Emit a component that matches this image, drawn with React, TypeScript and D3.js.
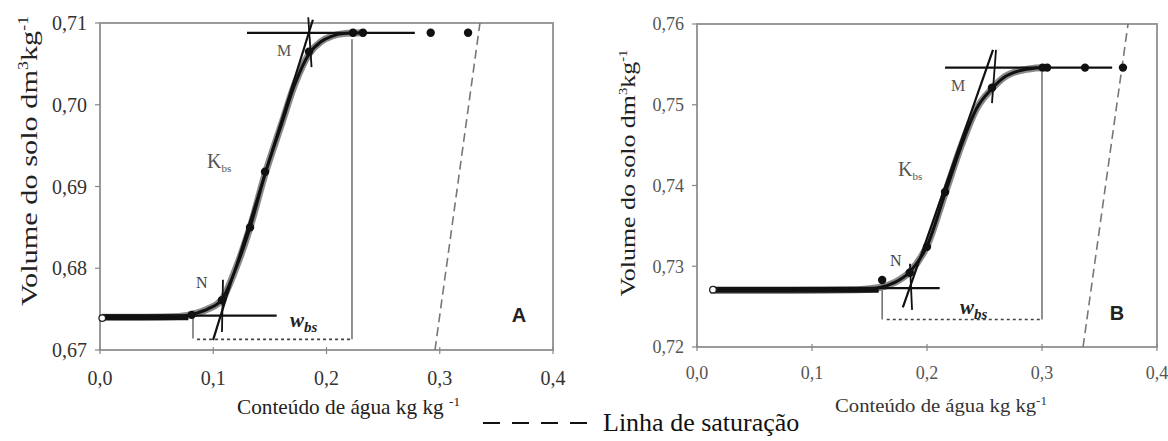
import React from "react";
import * as d3 from "d3";

// ---------- shared ticks ----------
const xTicks = [0, 0.1, 0.2, 0.3, 0.4];
const xTickLabels = ["0,0", "0,1", "0,2", "0,3", "0,4"];
const yTicksA = [0.67, 0.68, 0.69, 0.7, 0.71];
const yTickLabelsA = ["0,67", "0,68", "0,69", "0,70", "0,71"];
const yTicksB = [0.72, 0.73, 0.74, 0.75, 0.76];
const yTickLabelsB = ["0,72", "0,73", "0,74", "0,75", "0,76"];

// ---------- panel A data ----------
const obsWA = [0.002, 0.081, 0.1077, 0.1325, 0.1457, 0.1845, 0.2234, 0.2322, 0.292, 0.325];
const obsVA = [0.6739, 0.6743, 0.6761, 0.685, 0.6918, 0.7065, 0.7088, 0.7088, 0.7088, 0.7088];
// cluster of overlapping measurements on the dry plateau: [w start, w end, v]
const clusterA = [0.002, 0.078, 0.674];
const fitWA = [0.002, 0.04, 0.07, 0.085, 0.095, 0.1077, 0.12, 0.1325, 0.1457, 0.16, 0.172, 0.1845, 0.195, 0.205, 0.215, 0.2322];
const fitVA = [0.674, 0.674, 0.6741, 0.6745, 0.675, 0.6762, 0.68, 0.685, 0.6915, 0.6975, 0.7025, 0.7062, 0.7077, 0.7084, 0.7087, 0.7088];
// construction lines: [w1, v1, w2, v2]
const topLineA = [0.1298, 0.7088, 0.278, 0.7088];
const baseLineA = [0.002, 0.6742, 0.156, 0.6742];
const tangentA = [0.0998, 0.6712, 0.188, 0.7104];
const markNA = [0.1086, 0.6786, 0.1077, 0.6722];
const markMA = [0.1839, 0.7107, 0.1868, 0.7046];
const leftVertA = [0.0821, 0.6742, 0.0821, 0.6714];
const rightVertA = [0.2225, 0.708, 0.2225, 0.6713];
const dottedA = [0.0857, 0.6713, 0.2225, 0.6713];
const saturationA = [0.2958, 0.67, 0.3355, 0.71];

// ---------- panel B data ----------
const obsWB = [0.0139, 0.161, 0.185, 0.2, 0.2157, 0.2565, 0.3005, 0.3045, 0.3374, 0.3704];
const obsVB = [0.7271, 0.7283, 0.7292, 0.7324, 0.7392, 0.7521, 0.7546, 0.7546, 0.7546, 0.7546];
const clusterB = [0.0139, 0.158, 0.7271];
const fitWB = [0.0139, 0.08, 0.14, 0.16, 0.172, 0.185, 0.2, 0.2157, 0.23, 0.243, 0.2565, 0.268, 0.28, 0.292, 0.3045];
const fitVB = [0.727, 0.727, 0.7271, 0.7274, 0.728, 0.7293, 0.7325, 0.739, 0.745, 0.7495, 0.752, 0.7535, 0.7542, 0.7545, 0.7546];
const topLineB = [0.2157, 0.7546, 0.361, 0.7546];
const baseLineB = [0.0139, 0.7273, 0.211, 0.7273];
const tangentB = [0.179, 0.7249, 0.2574, 0.7568];
const markNB = [0.1852, 0.7303, 0.187, 0.7246];
const markMB = [0.26, 0.7568, 0.2565, 0.7502];
const leftVertB = [0.161, 0.7273, 0.161, 0.7234];
const rightVertB = [0.3, 0.7541, 0.3, 0.7234];
const dottedB = [0.165, 0.7234, 0.3, 0.7234];
const saturationB = [0.3357, 0.72, 0.3748, 0.76];

const SERIF = "Liberation Serif, Times New Roman, serif";
const SANS = "Liberation Sans, Arial, sans-serif";

type PanelCfg = {
  x: d3.ScaleLinear<number, number>;
  y: d3.ScaleLinear<number, number>;
  yTicks: number[];
  yTickLabels: string[];
  obsW: number[];
  obsV: number[];
  cluster: number[];
  fitW: number[];
  fitV: number[];
  topLine: number[];
  baseLine: number[];
  tangent: number[];
  markN: number[];
  markM: number[];
  leftVert: number[];
  rightVert: number[];
  dotted: number[];
  saturation: number[];
  tickFont: number;
  tickColor: string;
  xTickDy: number;
};

function Seg({ s, cfg, ...rest }: { s: number[]; cfg: PanelCfg; [k: string]: any }) {
  return (
    <line
      x1={cfg.x(s[0])}
      y1={cfg.y(s[1])}
      x2={cfg.x(s[2])}
      y2={cfg.y(s[3])}
      {...rest}
    />
  );
}

function Panel({ cfg }: { cfg: PanelCfg }) {
  const { x, y } = cfg;
  const [x0, x1] = x.range();
  const [y0, y1] = y.range();
  const fitPts: [number, number][] = cfg.fitW.map((w, i) => [w, cfg.fitV[i]]);
  const line = d3
    .line<[number, number]>()
    .x((d) => x(d[0]))
    .y((d) => y(d[1]))
    .curve(d3.curveMonotoneX);
  const fitPath = line(fitPts) || "";
  return (
    <g>
      <rect x={x0} y={y1} width={x1 - x0} height={y0 - y1} fill="none" stroke="#9a9a9a" strokeWidth={2} />
      {cfg.yTicks.map((t, i) => (
        <g key={"yt" + i}>
          <line x1={x0 - 5} x2={x0} y1={y(t)} y2={y(t)} stroke="#888" strokeWidth={1.2} />
          <text
            x={x0 - 13}
            y={y(t)}
            dy="0.35em"
            textAnchor="end"
            style={{ fontFamily: SERIF }}
            fontSize={cfg.tickFont}
            fill={cfg.tickColor}
          >
            {cfg.yTickLabels[i]}
          </text>
        </g>
      ))}
      {xTicks.map((t, i) => (
        <g key={"xt" + i}>
          <line x1={x(t)} x2={x(t)} y1={y0 - 3} y2={y0 + 4} stroke="#888" strokeWidth={1.2} />
          <text
            x={x(t)}
            y={y0 + cfg.xTickDy}
            dy="0.35em"
            textAnchor="middle"
            style={{ fontFamily: SERIF }}
            fontSize={cfg.tickFont}
            fill={cfg.tickColor}
          >
            {xTickLabels[i]}
          </text>
        </g>
      ))}
      <Seg s={cfg.saturation} cfg={cfg} stroke="#777" strokeWidth={1.6} strokeDasharray="9,5" />
      <Seg s={cfg.leftVert} cfg={cfg} stroke="#555" strokeWidth={1.3} />
      <Seg s={cfg.rightVert} cfg={cfg} stroke="#555" strokeWidth={1.3} />
      <Seg s={cfg.dotted} cfg={cfg} stroke="#444" strokeWidth={1.6} strokeDasharray="3,3" />
      <path d={fitPath} fill="none" stroke="#8a8a8a" strokeWidth={7} strokeLinecap="round" />
      <path d={fitPath} fill="none" stroke="#111" strokeWidth={3} strokeLinecap="round" />
      <line
        x1={x(cfg.cluster[0])}
        y1={y(cfg.cluster[2])}
        x2={x(cfg.cluster[1])}
        y2={y(cfg.cluster[2])}
        stroke="#111"
        strokeWidth={6}
      />
      <Seg s={cfg.topLine} cfg={cfg} stroke="#111" strokeWidth={2.2} />
      <Seg s={cfg.baseLine} cfg={cfg} stroke="#111" strokeWidth={2.2} />
      <Seg s={cfg.tangent} cfg={cfg} stroke="#111" strokeWidth={2.2} />
      <Seg s={cfg.markN} cfg={cfg} stroke="#111" strokeWidth={1.8} />
      <Seg s={cfg.markM} cfg={cfg} stroke="#111" strokeWidth={1.8} />
      {cfg.obsW.map((w, i) =>
        i === 0 ? (
          <circle key={"p" + i} cx={x(w)} cy={y(cfg.obsV[i])} r={3.3} fill="#fff" stroke="#222" strokeWidth={1.3} />
        ) : (
          <circle key={"p" + i} cx={x(w)} cy={y(cfg.obsV[i])} r={4.2} fill="#111" />
        )
      )}
    </g>
  );
}

function Label({
  x,
  y,
  main,
  sub,
  size,
  subSize,
  color,
  italic,
  bold,
}: {
  x: number;
  y: number;
  main: string;
  sub?: string;
  size: number;
  subSize?: number;
  color: string;
  italic?: boolean;
  bold?: boolean;
}) {
  return (
    <text
      x={x}
      y={y}
      style={{ fontFamily: SERIF }}
      fontSize={size}
      fill={color}
      fontStyle={italic ? "italic" : "normal"}
      fontWeight={bold ? "bold" : "normal"}
    >
      {main}
      {sub ? (
        <tspan fontSize={subSize} dy={size * 0.22}>
          {sub}
        </tspan>
      ) : null}
    </text>
  );
}

export default function App() {
  const xA = d3.scaleLinear().domain([0, 0.4]).range([100, 553]);
  const yA = d3.scaleLinear().domain([0.67, 0.71]).range([350, 23]);
  const xB = d3.scaleLinear().domain([0, 0.4]).range([697, 1157]);
  const yB = d3.scaleLinear().domain([0.72, 0.76]).range([347, 24]);

  const cfgA: PanelCfg = {
    x: xA,
    y: yA,
    yTicks: yTicksA,
    yTickLabels: yTickLabelsA,
    obsW: obsWA,
    obsV: obsVA,
    cluster: clusterA,
    fitW: fitWA,
    fitV: fitVA,
    topLine: topLineA,
    baseLine: baseLineA,
    tangent: tangentA,
    markN: markNA,
    markM: markMA,
    leftVert: leftVertA,
    rightVert: rightVertA,
    dotted: dottedA,
    saturation: saturationA,
    tickFont: 20,
    tickColor: "#333",
    xTickDy: 28,
  };
  const cfgB: PanelCfg = {
    x: xB,
    y: yB,
    yTicks: yTicksB,
    yTickLabels: yTickLabelsB,
    obsW: obsWB,
    obsV: obsVB,
    cluster: clusterB,
    fitW: fitWB,
    fitV: fitVB,
    topLine: topLineB,
    baseLine: baseLineB,
    tangent: tangentB,
    markN: markNB,
    markM: markMB,
    leftVert: leftVertB,
    rightVert: rightVertB,
    dotted: dottedB,
    saturation: saturationB,
    tickFont: 18,
    tickColor: "#555",
    xTickDy: 26,
  };

  return (
    <div style={{ position: "absolute", left: 0, top: 0 }}>
      <svg width={1168} height={441} style={{ display: "block", background: "#fff", fontFamily: SERIF }}>
        <rect x={0} y={0} width={1168} height={441} fill="#fff" />
        <Panel cfg={cfgA} />
        <Panel cfg={cfgB} />

        {/* Panel A annotations */}
        <Label x={196} y={288} main="N" size={16} color="#444" />
        <Label x={277} y={56} main="M" size={16} color="#555" />
        <Label x={207} y={168} main="K" sub="bs" size={20} subSize={11} color="#555" />
        <Label x={290} y={327} main="w" sub="bs" size={21} subSize={15} color="#222" italic bold />
        <text x={519} y={322} textAnchor="middle" style={{ fontFamily: SANS }} fontWeight="bold" fontSize={20} fill="#222">
          A
        </text>

        {/* Panel B annotations */}
        <Label x={890} y={266} main="N" size={16} color="#444" />
        <Label x={951} y={91} main="M" size={16} color="#555" />
        <Label x={898} y={176} main="K" sub="bs" size={20} subSize={11} color="#555" />
        <Label x={960} y={314} main="w" sub="bs" size={21} subSize={15} color="#222" italic bold />
        <text x={1117} y={320} textAnchor="middle" style={{ fontFamily: SANS }} fontWeight="bold" fontSize={20} fill="#222">
          B
        </text>

        {/* Y axis titles */}
        <text
          transform="translate(37,161) rotate(-90)"
          textAnchor="middle"
          style={{ fontFamily: SERIF }}
          fontSize={24}
          fill="#222"
          textLength={290}
          lengthAdjust="spacingAndGlyphs"
        >
          Volume do solo  dm<tspan fontSize={14} dy={-9}>3</tspan>
          <tspan dy={9}>kg</tspan>
          <tspan fontSize={14} dy={-9}>-1</tspan>
        </text>
        <text
          transform="translate(635,173) rotate(-90)"
          textAnchor="middle"
          style={{ fontFamily: SERIF }}
          fontSize={21}
          fill="#222"
          textLength={247}
          lengthAdjust="spacingAndGlyphs"
        >
          Volume do solo  dm<tspan fontSize={12} dy={-8}>3</tspan>
          <tspan dy={8}>kg</tspan>
          <tspan fontSize={12} dy={-8}>-1</tspan>
        </text>

        {/* X axis titles */}
        <text
          x={237}
          y={414}
          style={{ fontFamily: SERIF }}
          fontSize={21}
          fill="#222"
          textLength={223}
          lengthAdjust="spacingAndGlyphs"
        >
          Conteúdo de água kg kg <tspan fontSize={13} dy={-8}>-1</tspan>
        </text>
        <text
          x={835}
          y={412}
          style={{ fontFamily: SERIF }}
          fontSize={19}
          fill="#333"
          textLength={212}
          lengthAdjust="spacingAndGlyphs"
        >
          Conteúdo de água kg kg<tspan fontSize={12} dy={-7}>-1</tspan>
        </text>

        {/* Legend */}
        <line x1={483} y1={423} x2={587} y2={423} stroke="#111" strokeWidth={2} strokeDasharray="17,12" />
        <text x={603} y={431} style={{ fontFamily: SERIF }} fontSize={26} fill="#111">
          Linha de saturação
        </text>
      </svg>
    </div>
  );
}
